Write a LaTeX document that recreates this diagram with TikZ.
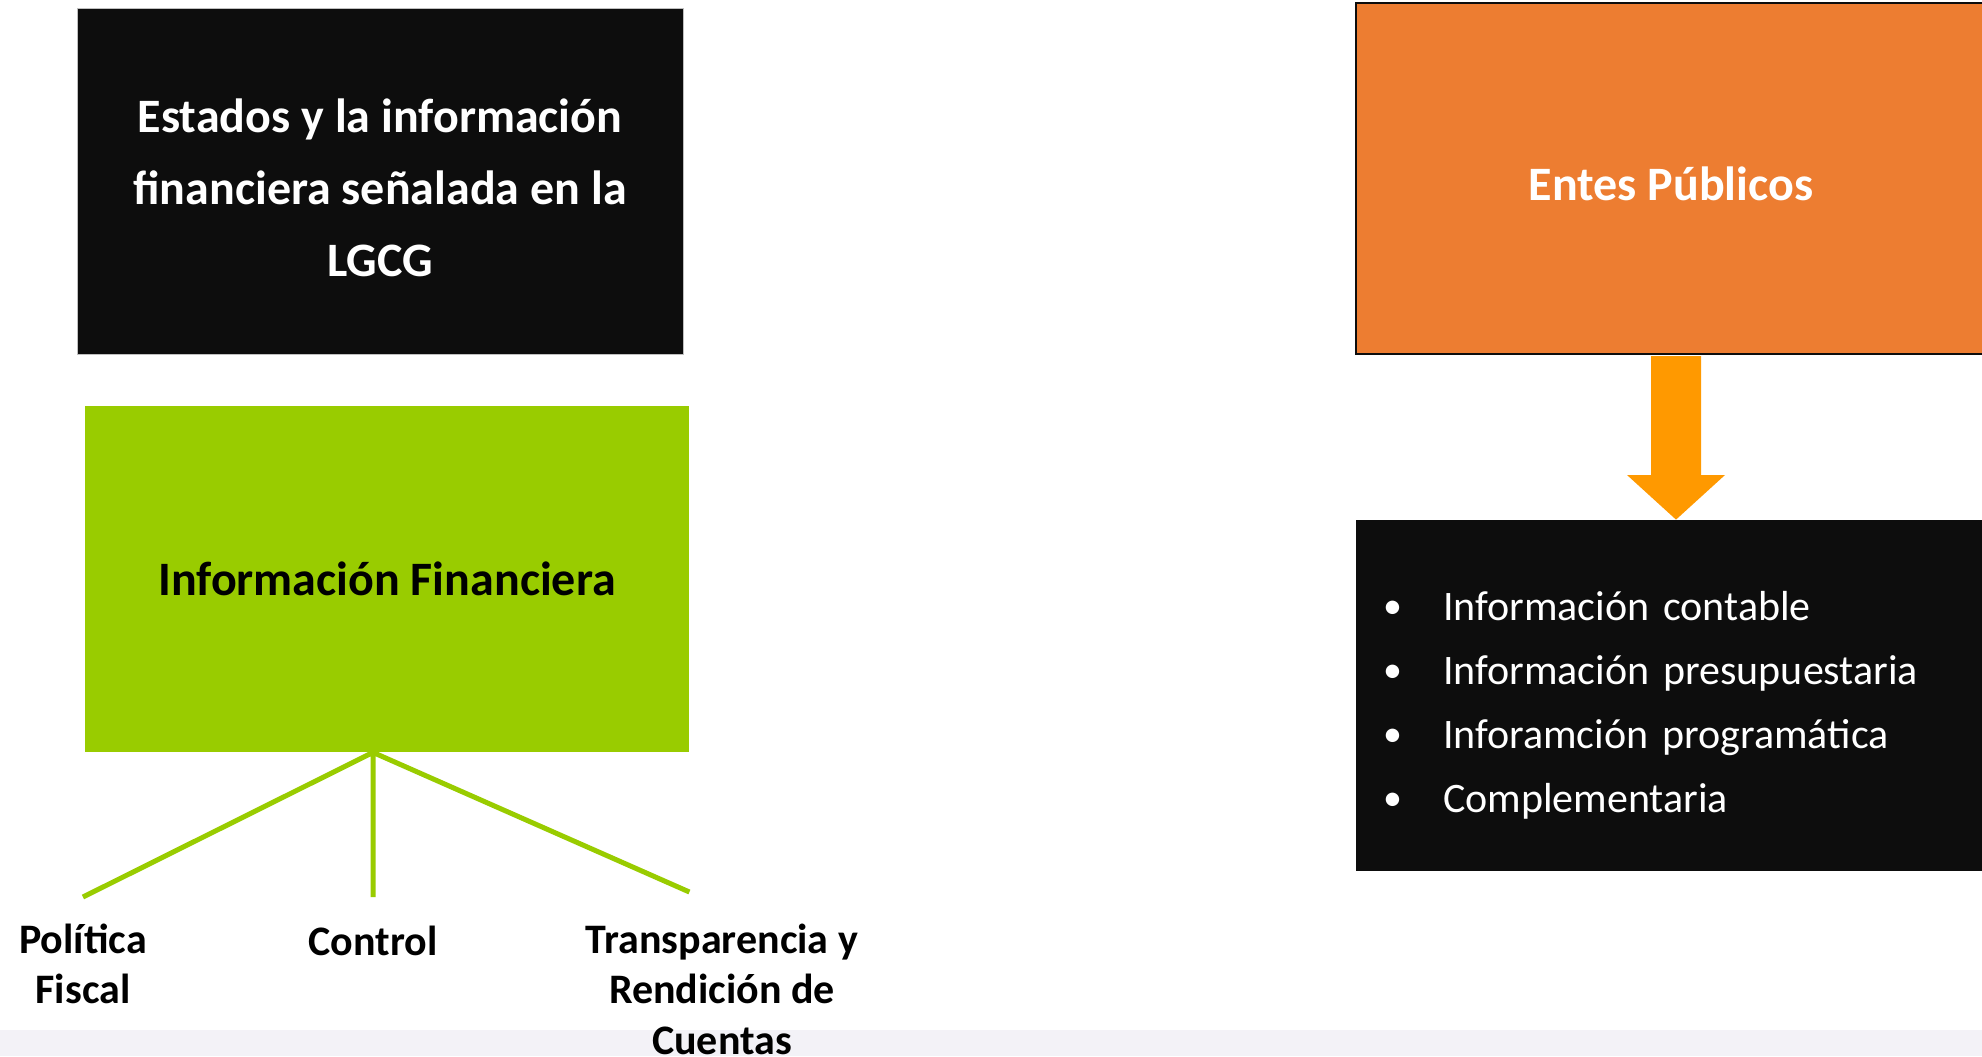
\documentclass[tikz,border=0pt]{standalone}
\usepackage{fontspec}
\setmainfont{Carlito}
\usetikzlibrary{calc}
\definecolor{negro}{HTML}{0D0D0D}
\definecolor{verde}{HTML}{99CC00}
\definecolor{naranja}{HTML}{ED7D31}
\definecolor{flechanar}{HTML}{FF9900}
\definecolor{franja}{HTML}{F3F2F7}
\newcommand{\vinieta}{\makebox[30pt][l]{\raisebox{0.8pt}{\fontsize{19}{19}\selectfont•}}}

\begin{document}
\begin{tikzpicture}[x=0.5pt,y=-0.5pt,
  caja/.style={minimum width=303pt,minimum height=173pt,inner sep=0pt,align=center,
    font=\fontsize{24}{36}\selectfont\bfseries},
  lbl/.style={anchor=north,align=center,inner xsep=5pt,inner ysep=13.2pt,
    font=\fontsize{21}{25.3}\selectfont\bfseries},
  rama/.style={draw=verde,line width=2.5pt}]
  \clip (0,0) rectangle (1982,1056);
  \fill[white] (0,0) rectangle (1982,1056);
  \fill[franja] (0,1030) rectangle (1982,1056);
  % columna izquierda
  \node[caja,fill=negro,draw=gray!50,line width=0.4pt,text=white] (estados) at (380,181)
    {\rule{0pt}{24pt}Estados y la información\\financiera señalada en la\\LGCG};
  \node[caja,fill=verde,minimum width=302pt] (infofin) at (387,579) {Información Financiera};
  \node[lbl] (politica) at (83,897) {Política\\Fiscal};
  \node[lbl,inner ysep=14.5pt] (control) at (373,897) {Control};
  \node[lbl,inner ysep=15.7pt] (transp) at (722,892) {Transparencia y\\Rendición de\\Cuentas};
  \draw[rama] (control.north |- infofin.south) -- (politica.north)
    (control.north |- infofin.south) -- (control.north)
    (control.north |- infofin.south) -- (transp.north -| infofin.east);
  % columna derecha
  \node[caja,fill=naranja,draw=negro,line width=1pt,text=white,minimum width=315pt,
    minimum height=175.5pt] (entes) at (1671,178.5) {\rule{0pt}{22pt}Entes Públicos};
  \node[caja,fill=negro,text=white,minimum width=315pt,minimum height=175.5pt,align=left,
    text width=288pt,inner xsep=13.5pt,font=\fontsize{21}{32}\selectfont] (lista) at (1671,695.5)
    {\rule{0pt}{24pt}\vinieta Información contable\\
     \vinieta Información presupuestaria\\
     \vinieta Inforamción programática\\
     \vinieta Complementaria};
  \fill[flechanar] ($(entes.south)+(-20,1)$) -- ++(50,0) -- ++(0,119) -- ++(24,0)
    -- ($(lista.north)+(5,0)$) -- ($(entes.south)+(-44,120)$) -- ++(24,0) -- cycle;
\end{tikzpicture}
\end{document}
